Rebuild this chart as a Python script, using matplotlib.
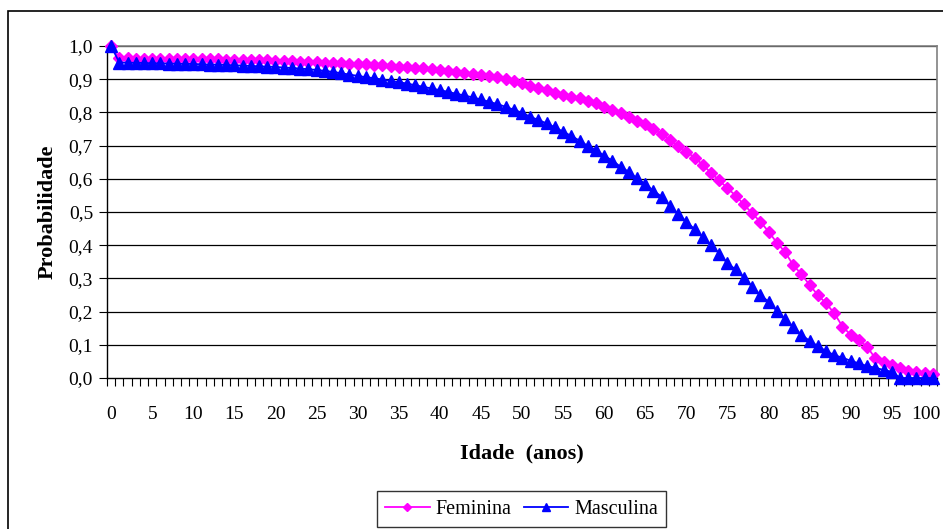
import matplotlib
matplotlib.use("Agg")
import matplotlib.pyplot as plt
from matplotlib.patches import Rectangle
import matplotlib.transforms as mtransforms
import numpy as np

ages = list(range(0, 101))

feminina = [
    1.000, 0.963, 0.963, 0.962, 0.962, 0.962, 0.961, 0.961, 0.961, 0.961,
    0.960, 0.960, 0.960, 0.960, 0.959, 0.959, 0.958, 0.958, 0.957, 0.957,
    0.956, 0.955, 0.954, 0.953, 0.952, 0.951, 0.950, 0.949, 0.948, 0.947,
    0.946, 0.945, 0.943, 0.942, 0.940, 0.938, 0.937, 0.935, 0.933, 0.931,
    0.928, 0.926, 0.923, 0.920, 0.917, 0.914, 0.910, 0.906, 0.901, 0.895,
    0.889, 0.879, 0.873, 0.867, 0.859, 0.852, 0.847, 0.842, 0.834, 0.827,
    0.817, 0.807, 0.799, 0.787, 0.775, 0.764, 0.749, 0.735, 0.717, 0.699,
    0.682, 0.664, 0.642, 0.618, 0.595, 0.572, 0.549, 0.523, 0.496, 0.471,
    0.441, 0.408, 0.380, 0.340, 0.313, 0.280, 0.250, 0.225, 0.195, 0.155,
    0.130, 0.114, 0.094, 0.059, 0.049, 0.039, 0.029, 0.022, 0.018, 0.015,
    0.011,
]

masculina = [
    1.000, 0.950, 0.950, 0.949, 0.949, 0.948, 0.948, 0.947, 0.947, 0.946,
    0.946, 0.945, 0.944, 0.944, 0.943, 0.942, 0.941, 0.940, 0.939, 0.938,
    0.937, 0.935, 0.934, 0.932, 0.930, 0.928, 0.925, 0.922, 0.918, 0.914,
    0.910, 0.906, 0.903, 0.899, 0.895, 0.891, 0.887, 0.882, 0.877, 0.872,
    0.867, 0.862, 0.856, 0.851, 0.845, 0.839, 0.832, 0.825, 0.817, 0.808,
    0.799, 0.787, 0.777, 0.767, 0.755, 0.742, 0.729, 0.715, 0.699, 0.687,
    0.669, 0.655, 0.636, 0.621, 0.601, 0.584, 0.564, 0.546, 0.518, 0.494,
    0.471, 0.448, 0.424, 0.400, 0.375, 0.345, 0.327, 0.302, 0.275, 0.250,
    0.230, 0.202, 0.177, 0.155, 0.130, 0.112, 0.096, 0.081, 0.069, 0.061,
    0.052, 0.044, 0.036, 0.031, 0.024, 0.019, 0.000, 0.000, 0.000, 0.000,
    0.000,
]

y_ticks = [0.0, 0.1, 0.2, 0.3, 0.4, 0.5, 0.6, 0.7, 0.8, 0.9, 1.0]
x_label_ticks = list(range(0, 101, 5))

plt.rcParams['font.family'] = ['Liberation Serif', 'DejaVu Serif']

W, H = 943, 529
fig = plt.figure(figsize=(W / 100, H / 100), dpi=100)

# outer chart frame
fig.patches.append(Rectangle((8 / W, -0.1), 1.2, 1 - 11 / H + 0.1,
                             transform=fig.transFigure, fill=False,
                             edgecolor='black', linewidth=1.2, zorder=0))

left, right, top, bottom = 107, 937, 46, 378
ax = fig.add_axes([left / W, 1 - bottom / H, (right - left) / W, (bottom - top) / H])

ax.plot(ages, feminina, color='#FF00FF', marker='D', markersize=6.5,
        linewidth=1.3, label='Feminina', zorder=3, clip_on=False)
ax.plot(ages, masculina, color='#0000FF', marker='^', markersize=8.8,
        linewidth=1.3, label='Masculina', zorder=4, clip_on=False)

ax.set_xlim(-0.5, 100.5)
ax.set_ylim(0, 1.0)

ax.set_yticks(y_ticks)
ax.set_yticklabels([f"{v:.1f}".replace('.', ',') for v in y_ticks], fontsize=14)
ax.set_xticks(x_label_ticks)
ax.set_xticklabels([str(v) for v in x_label_ticks], fontsize=14)
ax.tick_params(axis='x', which='major', length=0, pad=20)
ax.set_xticks(np.arange(-0.5, 101, 1.0), minor=True)
ax.tick_params(axis='x', which='minor', length=6, width=0.8, direction='out', color='black')
ax.tick_params(axis='y', which='major', length=6, width=0.8, direction='out', pad=4)

# keep the last label ("100") inside the figure like the reference
last = ax.get_xticklabels()[-1]
last.set_transform(last.get_transform() + mtransforms.ScaledTranslation(-7 / 100, 0, fig.dpi_scale_trans))

for v in y_ticks[1:]:
    ax.axhline(v, color='black', linewidth=0.9, zorder=1)

for s in ['top', 'right']:
    ax.spines[s].set_color('#808080')
    ax.spines[s].set_linewidth(1.2)
for s in ['left', 'bottom']:
    ax.spines[s].set_color('black')
    ax.spines[s].set_linewidth(1.0)

ax.set_xlabel('Idade  (anos)', fontsize=16, fontweight='bold', labelpad=15)
ax.set_ylabel('Probabilidade', fontsize=16, fontweight='bold', labelpad=8)

leg = fig.legend(loc='center', bbox_to_anchor=(521.5 / W, 1 - 509 / H), ncol=2,
                 fontsize=14.5, frameon=True, fancybox=False, shadow=False,
                 handlelength=2.2, handletextpad=0.3, columnspacing=0.6,
                 borderpad=0.4, markerscale=0.65)
leg.get_frame().set_edgecolor('black')
leg.get_frame().set_linewidth(1.0)

fig.savefig('out.png', dpi=100)
